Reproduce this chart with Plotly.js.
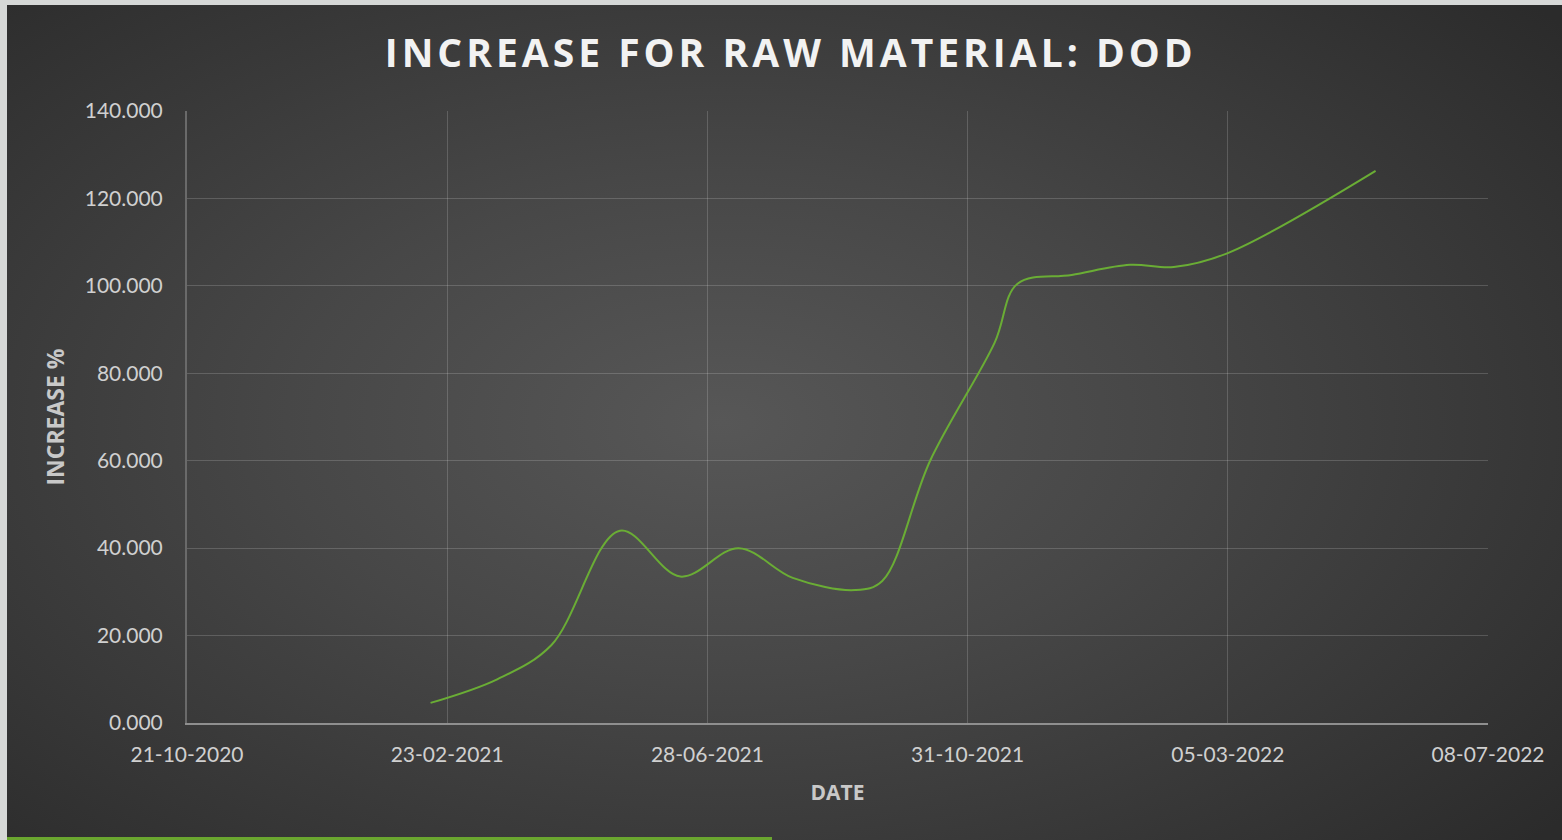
<!DOCTYPE html>
<html>
<head>
<meta charset="utf-8">
<script src="https://cdn.plot.ly/plotly-3.0.1.min.js"></script>
<style>
  html, body { margin: 0; padding: 0; width: 1562px; height: 840px; background: #d6d8d7; overflow: hidden; }
  #wrap { position: absolute; left: 7px; top: 5px; width: 1555px; height: 835px;
          background: radial-gradient(ellipse 70% 75% at 46% 50%, #575757 0%, #474747 40%, #2b2b2b 100%); }
  #chart { position: absolute; left: 0; top: 0; width: 1555px; height: 835px; }
  #greenbar { position: absolute; left: 0px; top: 832px; width: 765px; height: 4px; background: #6aa62f; }
  .gtitle { letter-spacing: 4px; }
</style>
</head>
<body>
<div id="wrap">
  <div id="chart"></div>
  <div id="greenbar"></div>
</div>
<script>
// Data
const dates = ['2021-02-15','2021-03-19','2021-04-14','2021-05-17','2021-06-15','2021-07-13',
               '2021-08-08','2021-09-07','2021-09-20','2021-10-13','2021-11-13','2021-11-24',
               '2021-12-20','2022-01-17','2022-02-07','2022-03-05','2022-05-15'];
const increase = [4.6, 10.0, 17.8, 44.0, 33.5, 40.0,
                  33.2, 30.4, 32.5, 60.0, 87.0, 100.5,
                  102.5, 104.8, 104.3, 107.5, 126.3];
const xTickVals = ['2020-10-21','2021-02-23','2021-06-28','2021-10-31','2022-03-05','2022-07-08'];
const xTickText = ['21-10-2020','23-02-2021','28-06-2021','31-10-2021','05-03-2022','08-07-2022'];
const yTickVals = [0, 20, 40, 60, 80, 100, 120, 140];

const trace = {
  x: dates, y: increase, type: 'scatter', mode: 'lines',
  line: { color: '#6aad35', width: 2, shape: 'spline', smoothing: 1 },
  hoverinfo: 'x+y'
};

const tickFont = { family: 'Lato, "Noto Sans", sans-serif', size: 21, color: '#d0d0d0' };

const layout = {
  width: 1555, height: 835,
  paper_bgcolor: 'rgba(0,0,0,0)', plot_bgcolor: 'rgba(0,0,0,0)',
  margin: { l: 180, r: 74, t: 106, b: 117 },
  showlegend: false,
  title: {
    text: 'INCREASE FOR RAW MATERIAL: DOD',
    x: 0.504, xanchor: 'center', y: 0.942, yanchor: 'middle',
    font: { family: '"Open Sans", Lato, sans-serif', size: 39, color: '#f2f2f2', weight: 700 }
  },
  xaxis: {
    type: 'date',
    range: ['2020-10-21', '2022-07-08'],
    tickmode: 'array', tickvals: xTickVals, ticktext: xTickText,
    tickfont: tickFont, ticks: '', ticklabelstandoff: 12,
    showgrid: true, gridcolor: 'rgba(255,255,255,0.17)', gridwidth: 1,
    showline: true, linecolor: '#8f8f8f', linewidth: 2,
    zeroline: false, fixedrange: true,
    title: { text: 'DATE', standoff: 20,
      font: { family: '"Open Sans", Lato, sans-serif', size: 21, color: '#c8c8c8', weight: 700 } }
  },
  yaxis: {
    range: [0, 140],
    tickmode: 'array', tickvals: yTickVals,
    tickformat: '.3f',
    tickfont: tickFont, ticks: '', ticklabelstandoff: 18,
    showgrid: true, gridcolor: 'rgba(255,255,255,0.17)', gridwidth: 1,
    showline: true, linecolor: '#6a6a6a', linewidth: 2,
    zeroline: false, fixedrange: true,
    title: { text: 'INCREASE %', standoff: 14,
      font: { family: '"Open Sans", Lato, sans-serif', size: 23, color: '#c8c8c8', weight: 700 } }
  }
};

Plotly.newPlot('chart', [trace], layout, { displayModeBar: false, staticPlot: true });
</script>
</body>
</html>
